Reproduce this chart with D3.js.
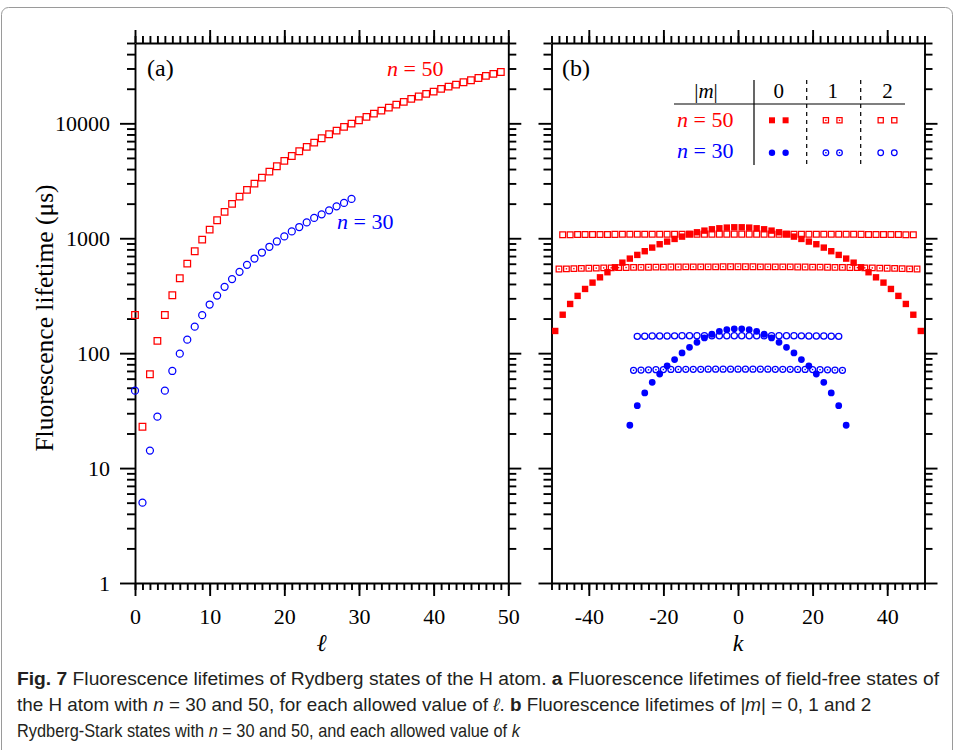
<!DOCTYPE html>
<html>
<head>
<meta charset="utf-8">
<script src="https://cdn.jsdelivr.net/npm/d3@7"></script>
<style>
  body { margin: 0; background: #fff; }
  svg { display: block; }
  .serif { font-family: "Liberation Serif", "DejaVu Serif", serif; }
  .cap { font-family: "Liberation Sans", "Roboto", "DejaVu Sans", sans-serif; }
</style>
</head>
<body>
<svg id="fig" width="956" height="750"></svg>
<script>
// ---- Panel (a): field-free lifetimes (µs) vs orbital quantum number ℓ ----
const ellN50 = d3.range(0, 50);   // ℓ = 0 … 49
const ellN30 = d3.range(0, 30);   // ℓ = 0 … 29
const tauN50 = [215, 22.9, 65.5, 128, 215, 319, 449, 601, 771, 973,
                1188, 1435, 1694, 1990, 2302, 2633, 2985, 3368, 3800, 4234,
                4707, 5200, 5714, 6233, 6796, 7420, 8037, 8645, 9300, 9940,
                10640, 11370, 12150, 12900, 13700, 14550, 15370, 16320, 17100, 18040,
                18890, 19950, 20880, 21730, 22770, 23700, 24820, 25840, 26900, 27950];
const tauN30 = [47.2, 5.0, 14.2, 28, 47.2, 70, 99, 131, 170, 214,
                265, 317, 378, 441, 510, 587, 666, 751, 843, 937,
                1037, 1146, 1252, 1374, 1502, 1615, 1750, 1896, 2028, 2198];

// ---- Panel (b): Stark-state lifetimes (µs) vs k for |m| = 0, 1, 2 ----
const kN50m0 = d3.range(-49, 50, 2);
const kN50m1 = d3.range(-48, 49, 2);
const kN50m2 = d3.range(-47, 48, 2);
const kN30m0 = d3.range(-29, 30, 2);
const kN30m1 = d3.range(-28, 29, 2);
const kN30m2 = d3.range(-27, 28, 2);

const tauN50m0 = [156, 216, 268, 315, 362, 411, 457, 506, 559, 613,
                  665, 716, 771, 829, 887, 935, 986, 1033, 1090, 1127,
                  1165, 1197, 1221, 1238, 1246,
                  1246, 1238, 1221, 1197, 1165, 1127, 1090, 1033, 986, 935,
                  887, 829, 771, 716, 665, 613, 559, 506, 457, 411,
                  362, 315, 268, 216, 156];
const tauN50m1 = [540, 542, 544, 546, 548, 550, 552, 553, 555, 556,
                  557, 558, 559, 560, 561, 562, 562, 563, 563, 564,
                  564, 564, 565, 565, 565, 565, 565, 564, 564, 564,
                  563, 563, 562, 562, 561, 560, 559, 558, 557, 556,
                  555, 553, 552, 550, 548, 546, 544, 542, 540];
const tauN50m2 = [1072, 1074, 1076, 1077, 1078, 1079, 1080, 1081, 1082, 1082,
                  1083, 1083, 1084, 1084, 1084, 1085, 1085, 1085, 1085, 1086,
                  1086, 1086, 1086, 1086, 1086, 1086, 1086, 1086, 1086, 1085,
                  1085, 1085, 1085, 1084, 1084, 1084, 1083, 1083, 1082, 1082,
                  1081, 1080, 1079, 1078, 1077, 1076, 1074, 1072];
const tauN30m0 = [23.6, 34.9, 45.1, 55.8, 65.9, 77.4, 87.9, 100.4, 112.5, 124.3,
                  135.6, 146, 155, 160, 163,
                  163, 160, 155, 146, 135.6, 124.3, 112.5, 100.4, 87.9, 77.4,
                  65.9, 55.8, 45.1, 34.9, 23.6];
const tauN30m1 = [71.0, 71.3, 71.6, 71.8, 72.0, 72.1, 72.2, 72.3, 72.4, 72.4,
                  72.5, 72.5, 72.5, 72.6, 72.6, 72.6, 72.5, 72.5, 72.5, 72.4,
                  72.4, 72.3, 72.2, 72.1, 72.0, 71.8, 71.6, 71.3, 71.0];
const tauN30m2 = [140, 140.4, 140.8, 141, 141.2, 141.4, 141.5, 141.6, 141.7, 141.8,
                  141.8, 141.9, 141.9, 142, 142, 141.9, 141.9, 141.8, 141.8, 141.7,
                  141.6, 141.5, 141.4, 141.2, 141, 140.8, 140.4, 140];

// ---- Tick labels ----
const yMajorTicks = [1, 10, 100, 1000, 10000];
const xTicksA = [0, 10, 20, 30, 40, 50];
const xTicksB = [-40, -20, 0, 20, 40];
const mLegendLabels = ["0", "1", "2"];

const RED = "#ff0000", BLUE = "#0000ff";

const svg = d3.select("#fig");

// figure frame
svg.append("rect")
  .attr("x", 1.5).attr("y", 7.5).attr("width", 951).attr("height", 760)
  .attr("rx", 7).attr("fill", "none").attr("stroke", "#9a9a9a").attr("stroke-width", 1);

const y = d3.scaleLog().domain([1, 50000]).range([583, 43]);
const xA = d3.scaleLinear().domain([0, 50]).range([135, 508.3]);
const xB = d3.scaleLinear().domain([-50, 50]).range([551.5, 924.5]);

const MAJ = 13, MIN = 7, AXW = 1.9;

function styleAxis(g) {
  g.selectAll("path.domain").attr("stroke", "#000").attr("stroke-width", AXW);
  g.selectAll(".tick line").attr("stroke", "#000").attr("stroke-width", AXW);
  g.selectAll("text").attr("fill", "#000")
    .attr("font-family", "Liberation Serif, DejaVu Serif, serif").attr("font-size", 22);
}

function frame(x, xMajor, xMinor, showY) {
  const [x0, x1] = x.range();
  const yMinor = y.ticks().filter(v => !yMajorTicks.includes(v));
  // bottom
  const gb = svg.append("g").attr("transform", `translate(0,583)`);
  gb.call(d3.axisBottom(x).tickValues(xMajor).tickSize(MAJ).tickSizeOuter(0).tickPadding(0)
      .tickFormat(d => d));
  gb.selectAll("text").attr("y", 40.5).attr("dy", 0);
  styleAxis(gb);
  const gbm = svg.append("g").attr("transform", `translate(0,583)`)
    .call(d3.axisBottom(x).tickValues(xMinor).tickSize(MIN).tickFormat(""));
  gbm.select(".domain").remove(); styleAxis(gbm);
  // top
  const gt = svg.append("g").attr("transform", `translate(0,43)`)
    .call(d3.axisTop(x).tickValues(xMajor).tickSize(MAJ).tickSizeOuter(0).tickFormat(""));
  styleAxis(gt);
  const gtm = svg.append("g").attr("transform", `translate(0,43)`)
    .call(d3.axisTop(x).tickValues(xMinor).tickSize(MIN).tickFormat(""));
  gtm.select(".domain").remove(); styleAxis(gtm);
  // left
  const gl = svg.append("g").attr("transform", `translate(${x0},0)`)
    .call(d3.axisLeft(y).tickValues(yMajorTicks).tickSize(showY ? 15 : MAJ).tickSizeOuter(0)
      .tickPadding(10).tickFormat(showY ? (d => String(d)) : ""));
  gl.selectAll("text").attr("dy", "0.34em");
  styleAxis(gl);
  const glm = svg.append("g").attr("transform", `translate(${x0},0)`)
    .call(d3.axisLeft(y).tickValues(yMinor).tickSize(MIN + 1).tickFormat(""));
  glm.select(".domain").remove(); styleAxis(glm);
  // right
  const gr = svg.append("g").attr("transform", `translate(${x1},0)`)
    .call(d3.axisRight(y).tickValues(yMajorTicks).tickSize(MAJ).tickSizeOuter(0).tickFormat(""));
  styleAxis(gr);
  const grm = svg.append("g").attr("transform", `translate(${x1},0)`)
    .call(d3.axisRight(y).tickValues(yMinor).tickSize(MIN + 1).tickFormat(""));
  grm.select(".domain").remove(); styleAxis(grm);
}

frame(xA, xTicksA, d3.range(0, 51, 1), true);
frame(xB, xTicksB, d3.range(-50, 51, 2), false);

// ---- marker drawing ----
function drawMarker(g, cx, cy, kind, color, s) {
  const isSq = kind.startsWith("sq");
  const filled = kind.endsWith("Fill");
  const dotted = kind.endsWith("Dot");
  const sym = d3.symbol().type(isSq ? d3.symbolSquare : d3.symbolCircle)
    .size(isSq ? s * s : Math.PI * (s / 2) * (s / 2));
  g.append("path").attr("d", sym())
    .attr("transform", `translate(${cx},${cy})`)
    .attr("fill", filled ? color : "none")
    .attr("stroke", filled ? "none" : color)
    .attr("stroke-width", 1.25);
  if (dotted) {
    g.append("rect").attr("x", cx - 0.7).attr("y", cy - 0.7)
      .attr("width", 1.4).attr("height", 1.4).attr("fill", color);
  }
}

function series(xs, vals, xScale, kind, color, s) {
  const g = svg.append("g");
  xs.forEach((xv, i) => drawMarker(g, xScale(xv), y(vals[i]), kind, color, s));
}

// panel (a)
series(ellN50, tauN50, xA, "sqOpen", RED, 6.6);
series(ellN30, tauN30, xA, "cirOpen", BLUE, 7.0);

// panel (b)
series(kN50m0, tauN50m0, xB, "sqFill", RED, 6.4);
series(kN50m1, tauN50m1, xB, "sqDot", RED, 5.6);
series(kN50m2, tauN50m2, xB, "sqOpen", RED, 5.8);
series(kN30m0, tauN30m0, xB, "cirFill", BLUE, 6.8);
series(kN30m1, tauN30m1, xB, "cirDot", BLUE, 6.0);
series(kN30m2, tauN30m2, xB, "cirOpen", BLUE, 6.2);

// ---- in-plot text ----
function nLabel(x, yb, val, color, size) {
  const t = svg.append("text").attr("class", "serif").attr("x", x).attr("y", yb)
    .attr("font-size", size).attr("fill", color);
  t.append("tspan").attr("font-style", "italic").text("n");
  t.append("tspan").text(" = " + val);
  return t;
}
svg.append("text").attr("class", "serif").attr("x", 147).attr("y", 76)
  .attr("font-size", 24).text("(a)");
svg.append("text").attr("class", "serif").attr("x", 562).attr("y", 76)
  .attr("font-size", 24).text("(b)");
nLabel(387, 76, "50", RED, 22);
nLabel(337, 229, "30", BLUE, 22);

// axis titles
svg.append("text").attr("class", "serif")
  .attr("transform", "translate(53,318) rotate(-90)")
  .attr("text-anchor", "middle").attr("font-size", 25.5).text("Fluorescence lifetime (μs)");
svg.append("text").attr("class", "serif").attr("x", xA(25)).attr("y", 651)
  .attr("text-anchor", "middle").attr("font-size", 24).attr("font-style", "italic").text("ℓ");
svg.append("text").attr("class", "serif").attr("x", xB(0)).attr("y", 651)
  .attr("text-anchor", "middle").attr("font-size", 24).attr("font-style", "italic").text("k");

// ---- legend table ----
const lg = svg.append("g");
const colX = [778.8, 832.7, 887.5];
const hdr = lg.append("text").attr("class", "serif").attr("x", 706).attr("y", 98)
  .attr("text-anchor", "middle").attr("font-size", 21);
hdr.append("tspan").text("|");
hdr.append("tspan").attr("font-style", "italic").text("m");
hdr.append("tspan").text("|");
mLegendLabels.forEach((s, i) => lg.append("text").attr("class", "serif")
  .attr("x", colX[i]).attr("y", 98).attr("text-anchor", "middle").attr("font-size", 21).text(s));
lg.append("line").attr("x1", 674).attr("x2", 905).attr("y1", 104).attr("y2", 104)
  .attr("stroke", "#000").attr("stroke-width", 1.2);
lg.append("line").attr("x1", 754).attr("x2", 754).attr("y1", 80).attr("y2", 165)
  .attr("stroke", "#000").attr("stroke-width", 1.2);
[806.7, 860.7].forEach(xv => lg.append("line").attr("x1", xv).attr("x2", xv)
  .attr("y1", 80).attr("y2", 165).attr("stroke", "#000").attr("stroke-width", 1.2)
  .attr("stroke-dasharray", "4,4"));
nLabel(677, 127, "50", RED, 22);
nLabel(677, 158, "30", BLUE, 22);
const legKinds50 = ["sqFill", "sqDot", "sqOpen"];
const legKinds30 = ["cirFill", "cirDot", "cirOpen"];
colX.forEach((cx, i) => {
  [-6.8, 6.8].forEach(dx => {
    drawMarker(lg, cx + dx, 120.3, legKinds50[i], RED, i === 0 ? 6 : 5.2);
    drawMarker(lg, cx + dx, 152.7, legKinds30[i], BLUE, i === 0 ? 6.4 : 5.6);
  });
});

// ---- caption: each line is squeezed horizontally to its set width ----
function capLine(yb, len, parts) {
  const t = svg.append("text").attr("class", "cap").attr("x", 0).attr("y", 0)
    .attr("font-size", 18).attr("fill", "#231f20");
  parts.forEach(p => {
    const s = t.append("tspan").text(p[0]);
    if (p[1] === "b") s.attr("font-weight", "bold");
    if (p[1] === "i") s.attr("font-style", "italic");
  });
  const w = t.node().getComputedTextLength();
  t.attr("transform", `translate(17,${yb}) scale(${len / w},1)`);
}
capLine(685, 923, [["Fig. 7", "b"], ["  Fluorescence lifetimes of Rydberg states of the H atom. "], ["a", "b"],
  [" Fluorescence lifetimes of field-free states of"]]);
capLine(711, 855, [["the H atom with "], ["n", "i"], [" = 30 and 50, for each allowed value of "], ["ℓ", "i"],
  [". "], ["b", "b"], [" Fluorescence lifetimes of |"], ["m", "i"], ["| = 0, 1 and 2"]]);
capLine(737, 503, [["Rydberg-Stark states with "], ["n", "i"], [" = 30 and 50, and each allowed value of "], ["k", "i"]]);
</script>
</body>
</html>
